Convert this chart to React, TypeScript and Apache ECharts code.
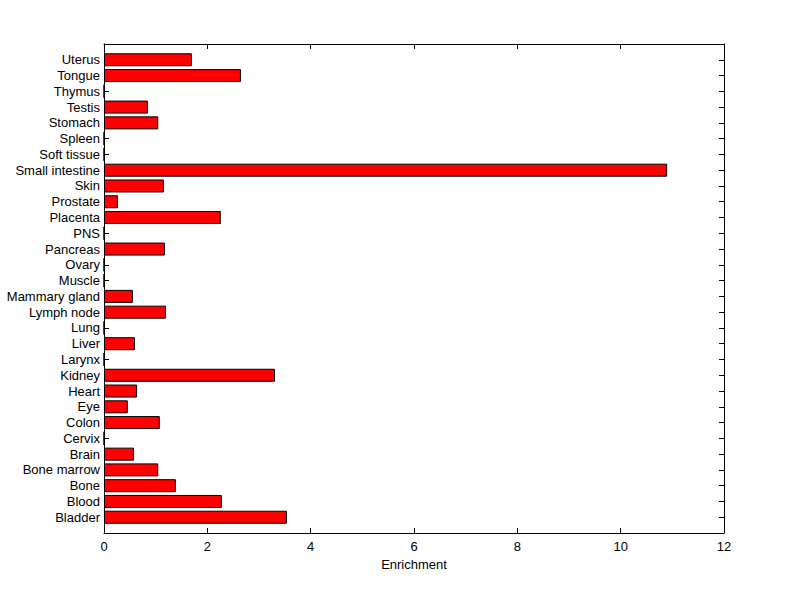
import React, { useEffect, useRef } from "react";
import * as echarts from "echarts";

const categories = [
  "Bladder", "Blood", "Bone", "Bone marrow", "Brain", "Cervix", "Colon", "Eye",
  "Heart", "Kidney", "Larynx", "Liver", "Lung", "Lymph node", "Mammary gland",
  "Muscle", "Ovary", "Pancreas", "PNS", "Placenta", "Prostate", "Skin",
  "Small intestine", "Soft tissue", "Spleen", "Stomach", "Testis", "Thymus",
  "Tongue", "Uterus",
];

const enrichment = [
  3.54, 2.28, 1.39, 1.05, 0.58, 0, 1.08, 0.46,
  0.64, 3.31, 0, 0.6, 0, 1.2, 0.56,
  0, 0, 1.18, 0, 2.26, 0.27, 1.16,
  10.9, 0, 0, 1.05, 0.85, 0,
  2.65, 1.7,
];

const xTicks = { min: 0, max: 12, interval: 2 };
const axisName = "Enrichment";

const FONT = "Liberation Sans, Arial, sans-serif";

export default function App() {
  const ref = useRef<HTMLDivElement>(null);
  useEffect(() => {
    if (!ref.current) return;
    const chart = echarts.init(ref.current, null, { renderer: "svg" });
    const yData = ["", ...categories, ""];
    const sData = [null, ...enrichment, null];
    const last = yData.length - 1;
    const tickInterval = (i: number) => i !== 0 && i !== last;
    const ls = () => ({ color: "#000", width: 1 });
    chart.setOption({
      animation: false,
      backgroundColor: "#fff",
      grid: { left: 104, right: 76, top: 44, bottom: 66, containLabel: false },
      xAxis: [
        {
          type: "value",
          position: "bottom",
          ...xTicks,
          name: axisName,
          nameLocation: "middle",
          nameGap: 20,
          nameTextStyle: { color: "#000", fontSize: 13, fontFamily: FONT },
          axisLine: { show: true, onZero: false, lineStyle: ls() },
          axisTick: { show: true, inside: true, length: 5, lineStyle: ls() },
          axisLabel: { color: "#000", fontSize: 13, fontFamily: FONT, margin: 7 },
          splitLine: { show: false },
        },
        {
          type: "value",
          position: "top",
          ...xTicks,
          axisLine: { show: true, onZero: false, lineStyle: ls() },
          axisTick: { show: true, inside: true, length: 5, lineStyle: ls() },
          axisLabel: { show: false },
          splitLine: { show: false },
        },
      ],
      yAxis: [
        {
          type: "category",
          position: "left",
          data: yData,
          boundaryGap: false,
          axisLine: { show: true, onZero: false, lineStyle: ls() },
          axisTick: { show: true, inside: true, length: 5, lineStyle: ls(), interval: tickInterval },
          axisLabel: { color: "#000", fontSize: 13, fontFamily: FONT, margin: 4, interval: 0 },
          splitLine: { show: false },
        },
        {
          type: "category",
          position: "right",
          data: yData,
          boundaryGap: false,
          axisLine: { show: true, onZero: false, lineStyle: ls() },
          axisTick: { show: true, inside: true, length: 5, lineStyle: ls(), interval: tickInterval },
          axisLabel: { show: false },
          splitLine: { show: false },
        },
      ],
      series: [
        {
          type: "bar",
          xAxisIndex: 0,
          yAxisIndex: 0,
          data: sData,
          barWidth: 13,
          itemStyle: { color: "#ff0000", borderColor: "#000", borderWidth: 1 },
        },
      ],
    });
    return () => chart.dispose();
  }, []);
  return <div ref={ref} style={{ width: 800, height: 599, position: "absolute", left: 0, top: 0 }} />;
}
